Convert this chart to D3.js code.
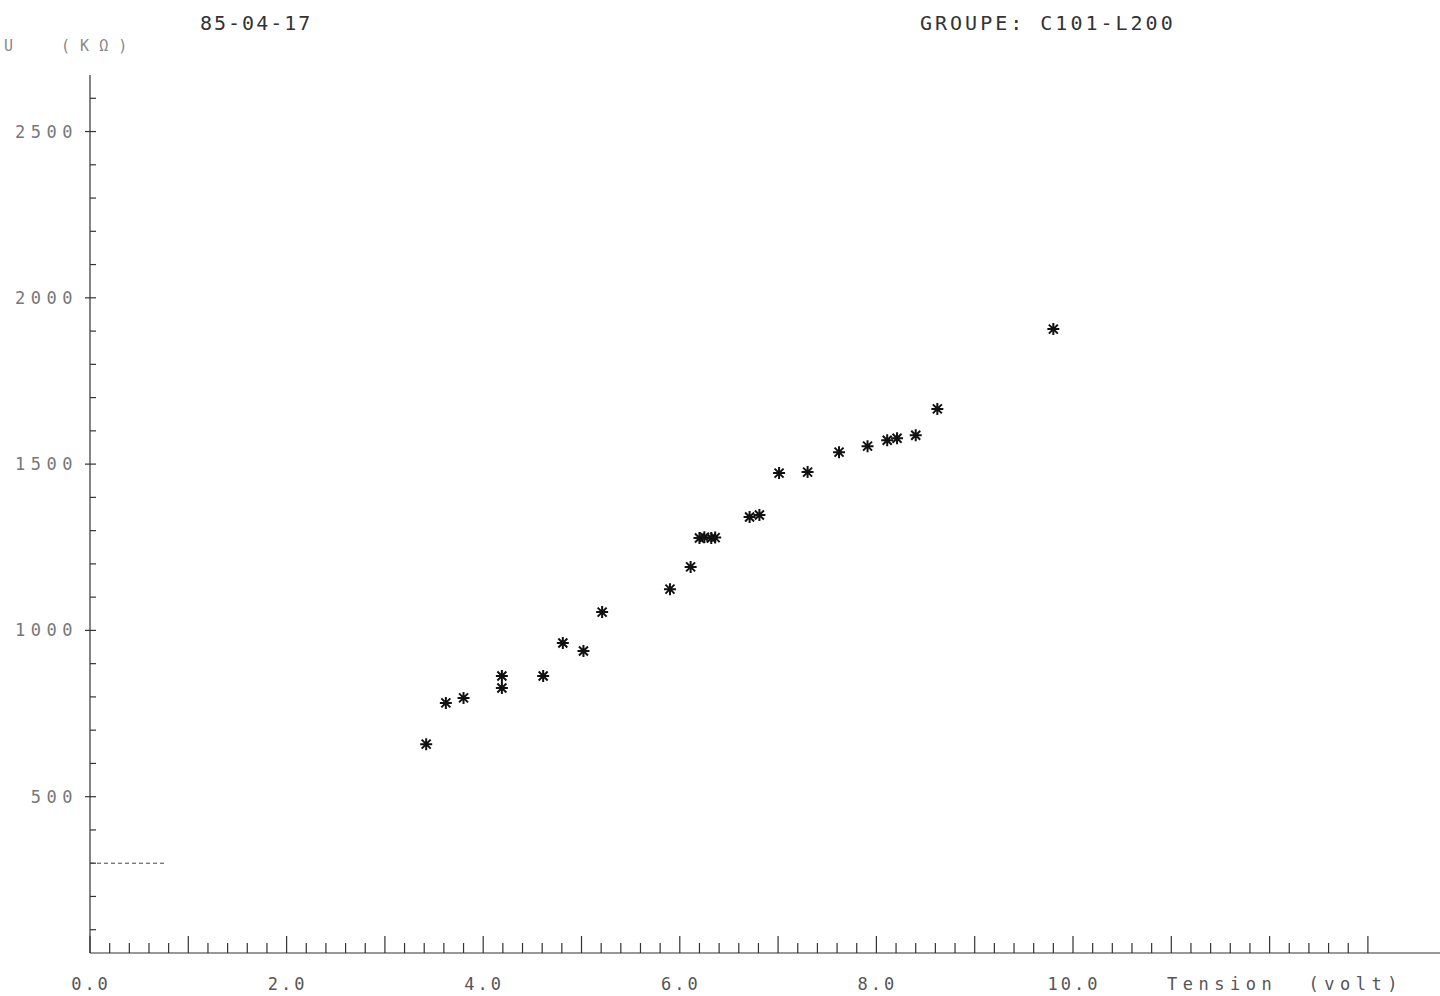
<!DOCTYPE html>
<html>
<head>
<meta charset="utf-8">
<script src="https://cdn.jsdelivr.net/npm/d3@7"></script>
<style>
    html, body { margin: 0; padding: 0; background: #fff; }
    text { font-family: "DejaVu Sans Mono", "Liberation Mono", monospace; white-space: pre; }
</style>
</head>
<body>
<div id="chart"></div>
<script>
// values
const tension = [3.42, 3.62, 3.80, 4.19, 4.19, 4.61, 4.81, 5.02, 5.21, 5.90, 6.11,
    6.20, 6.25, 6.32, 6.36, 6.71, 6.81, 7.01, 7.30, 7.62, 7.91, 8.11, 8.21, 8.40, 8.62, 9.80];
const resistance = [658, 782, 797, 863, 827, 863, 962, 938, 1055, 1124, 1191,
    1278, 1280, 1278, 1279, 1341, 1347, 1473, 1476, 1536, 1554, 1572, 1578, 1587, 1666, 1906];

const xTickLabels = ["0.0", "2.0", "4.0", "6.0", "8.0", "10.0"];
const yTickLabels = ["500", "1000", "1500", "2000", "2500"];
const markerLevel = [300];   // dashed reference at left
const markerSpan = [0, 0.78];

const headerDate = "85-04-17";
const headerGroup = "GROUPE: C101-L200";
const yTitle = "U  (KΩ)";
const xTitle = "Tension  (volt)";

document.addEventListener("DOMContentLoaded", () => {
    let width = 1440;
    let height = 996;

    let svg = d3.select("#chart")
        .append("svg")
        .attr("width", width)
        .attr("height", height);

    let xScale = d3.scaleLinear()
        .domain([0, 13])
        .range([90, 90 + 13 * 98.3]);

    let yScale = d3.scaleLinear()
        .domain([30, 2670])
        .range([953, 75]);

    let axisY = 953;
    let axisX = xScale(0);

    // header texts
    svg.append("text")
        .attr("x", 200).attr("y", 30)
        .attr("font-size", "20px").attr("letter-spacing", "2px")
        .attr("fill", "#333")
        .text(headerDate);

    svg.append("text")
        .attr("x", 920).attr("y", 30)
        .attr("font-size", "20px").attr("letter-spacing", "3px")
        .attr("fill", "#333")
        .text(headerGroup);

    svg.append("text")
        .attr("x", 4).attr("y", 51)
        .attr("font-size", "15px").attr("letter-spacing", "10px")
        .attr("fill", "#888")
        .text(yTitle);

    // y axis line and ticks
    svg.append("line")
        .attr("x1", axisX).attr("x2", axisX)
        .attr("y1", yScale(2670)).attr("y2", axisY)
        .attr("stroke", "#333").attr("stroke-width", 1.2);

    d3.range(100, 2700, 100).forEach((v) => {
        let major = v % 500 === 0;
        svg.append("line")
            .attr("x1", major ? axisX - 5 : axisX)
            .attr("x2", axisX + 6)
            .attr("y1", yScale(v)).attr("y2", yScale(v))
            .attr("stroke", "#333").attr("stroke-width", 1.2);
    });

    yTickLabels.forEach((t) => {
        svg.append("text")
            .attr("x", 78).attr("y", yScale(+t) + 6)
            .attr("text-anchor", "end")
            .attr("font-size", "17px").attr("letter-spacing", "5.5px")
            .attr("fill", "#777")
            .text(t);
    });

    // x axis line and ticks
    svg.append("line")
        .attr("x1", axisX).attr("x2", width)
        .attr("y1", axisY).attr("y2", axisY)
        .attr("stroke", "#333").attr("stroke-width", 1.2);

    d3.range(0, 66).forEach((i) => {
        let v = i * 0.2;
        let major = i % 5 === 0;
        svg.append("line")
            .attr("x1", xScale(v)).attr("x2", xScale(v))
            .attr("y1", axisY).attr("y2", axisY - (major ? 17 : 10))
            .attr("stroke", "#333").attr("stroke-width", 1.2);
    });

    xTickLabels.forEach((t) => {
        svg.append("text")
            .attr("x", xScale(+t) + 1).attr("y", 990)
            .attr("text-anchor", "middle")
            .attr("font-size", "17px").attr("letter-spacing", "3px")
            .attr("fill", "#555")
            .text(t);
    });

    svg.append("text")
        .attr("x", 1167).attr("y", 990)
        .attr("font-size", "17px").attr("letter-spacing", "5.5px")
        .attr("fill", "#555")
        .text(xTitle);

    // dashed reference mark
    svg.append("line")
        .attr("x1", xScale(markerSpan[0])).attr("x2", xScale(markerSpan[1]))
        .attr("y1", yScale(markerLevel[0])).attr("y2", yScale(markerLevel[0]))
        .attr("stroke", "#444").attr("stroke-width", 1)
        .attr("stroke-dasharray", "4,3");

    // asterisk markers
    let r = 6;
    let star = `M0,${-r}L0,${r}M${-r},0L${r},0M${-r * 0.75},${-r * 0.75}L${r * 0.75},${r * 0.75}M${-r * 0.75},${r * 0.75}L${r * 0.75},${-r * 0.75}`;

    svg.append("g")
        .selectAll("path")
        .data(tension.map((t, i) => ({ t: t, u: resistance[i] })))
        .join("path")
        .attr("d", star)
        .attr("transform", d => `translate(${xScale(d.t)},${yScale(d.u)})`)
        .attr("fill", "none")
        .attr("stroke", "#111")
        .attr("stroke-width", 2);
});
</script>
</body>
</html>
